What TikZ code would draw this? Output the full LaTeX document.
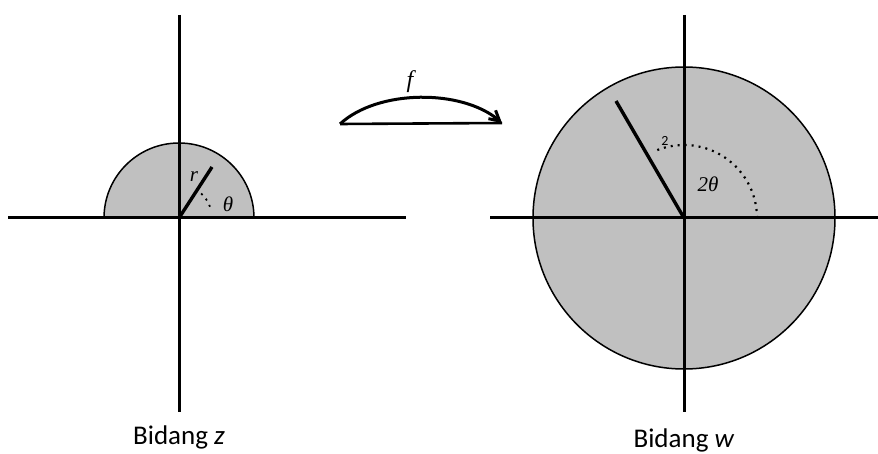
\documentclass[tikz,border=0pt]{standalone}
\usepackage{fontspec}
\setmainfont{Carlito}
\newfontfamily\symfont{Liberation Serif}
\usetikzlibrary{arrows.meta}
\definecolor{LGr}{RGB}{192,192,192}

\begin{document}
\begin{tikzpicture}[
  x=1pt, y=-1pt,
  axis/.style={line width=3pt, draw=black},
  disc/.style={draw=black, line width=1.5pt, fill=LGr},
  rline/.style={line width=3.4pt, draw=black},
  ang/.style={dash pattern=on 2pt off 5pt, line width=2.2pt, draw=black},
  lbl/.style={font=\fontsize{27}{32}\selectfont, inner sep=0pt},
  mlbl/.style={font=\fontsize{21}{25}\selectfont\symfont\itshape, inner sep=0pt},
  maparr/.style={-{Straight Barb[length=10pt, width=11pt]}, line width=3pt}
]
\useasboundingbox (0,0) rectangle (878,454);

% z-plane
\coordinate (oz) at (179,218);
\coordinate (rz) at (212,167);
\fill[LGr] (oz) ++(75,0) arc[start angle=0, end angle=-180, x radius=75, y radius=75] -- cycle;
\draw[disc, fill=none] (oz) ++(75,0) arc[start angle=0, end angle=-180, x radius=75, y radius=75];
\draw[axis] (8,218) -- (406,218);
\draw[axis] (179,15) -- (179,412);
\draw[rline] (oz) -- (rz);
\draw[ang, line width=1.8pt] (oz) ++(-20:33) arc[start angle=-20, end angle=-50, x radius=33, y radius=33];
\node[mlbl] (r) at (194,177) {r};
\node[mlbl] (th) at (228,204) {θ};
\node[lbl] (bz) at (179,437) {Bidang \textit{z}};

% mapping f
\coordinate (fs) at (340,124);
\coordinate (fe) at (502,123);
\draw[maparr] (fs) .. controls (378,89) and (462,89) .. (fe);
\draw[line width=2.6pt] (fs) -- (fe);
\node[mlbl, font=\fontsize{24}{28}\selectfont\symfont\itshape] (f) at (410,82) {f};

% w-plane
\coordinate (ow) at (684,218);
\coordinate (rw) at (616,101);
\draw[disc] (ow) circle[x radius=151, y radius=151];
\draw[axis] (490,218) -- (878,218);
\draw[axis] (684,15) -- (684,412);
\draw[rline] (ow) -- (rw);
\draw[ang] (ow) ++(73,0) arc[start angle=0, end angle=-112, x radius=73, y radius=73];
\node[mlbl] (tw) at (708,184) {2θ};
\node[font=\fontsize{14}{16}\selectfont, inner sep=0pt] (two) at (665,141) {2};
\node[lbl] (bw) at (684,440) {Bidang \textit{w}};
\end{tikzpicture}
\end{document}
